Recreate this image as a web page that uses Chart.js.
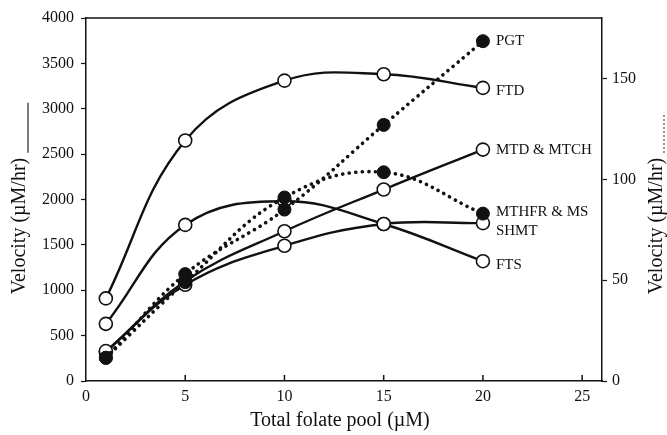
<!DOCTYPE html>
<html>
<head>
<meta charset="utf-8">
<script src="https://cdn.jsdelivr.net/npm/chart.js@4/dist/chart.umd.min.js"></script>
<style>
  html, body { margin: 0; padding: 0; background: #fff; }
  #wrap { width: 667px; height: 435px; position: relative; }
</style>
</head>
<body>
<div id="wrap"><canvas id="chart"></canvas></div>
<script>
// data
const folate = [1, 5, 10, 15, 20];
const ftd = [910, 2650, 3310, 3380, 3230];
const fts = [630, 1720, 1980, 1730, 1320];
const shmt = [330, 1060, 1490, 1730, 1740];
const mtdMtch = [320, 1100, 1650, 2110, 2550];
// right axis (dotted)
const pgt = [11.5, 53, 85, 127, 168.5];
const mthfrMs = [11.5, 49, 91, 103.5, 83];

const xTicks = [0, 5, 10, 15, 20, 25];
const yTicks = [0, 500, 1000, 1500, 2000, 2500, 3000, 3500, 4000];
const y1Ticks = [0, 50, 100, 150];

const serif = "'Liberation Serif', 'DejaVu Serif', serif";
const ink = "#111";

function pts(vals) {
  return vals.map((v, i) => ({ x: folate[i], y: v }));
}

function solid(label, vals, dy) {
  return {
    label: label, data: pts(vals), yAxisID: "y", tag: dy, order: 2,
    borderColor: ink, borderWidth: 2.4, tension: 0.4,
    pointRadius: 6.5, pointBackgroundColor: "#fff", pointBorderColor: ink, pointBorderWidth: 1.6
  };
}
function dotted(label, vals, dy) {
  return {
    label: label, data: pts(vals), yAxisID: "y1", tag: dy, order: 1,
    borderColor: ink, borderWidth: 3.6, borderDash: [0.1, 6.5], borderCapStyle: "round",
    tension: 0.4,
    pointRadius: 6.5, pointBackgroundColor: ink, pointBorderColor: ink, pointBorderWidth: 1
  };
}

const datasets = [
  solid("FTD", ftd, 3),
  solid("FTS", fts, 4),
  solid("SHMT", shmt, 8),
  solid("MTD & MTCH", mtdMtch, 0),
  dotted("PGT", pgt, 0),
  dotted("MTHFR & MS", mthfrMs, -2)
];

// labels next to the last point, titles, frame, inward x ticks
const decor = {
  id: "decor",
  afterDatasetsDraw(chart) {
    const ctx = chart.ctx;
    const a = chart.chartArea;
    const xs = chart.scales.x;
    ctx.save();
    ctx.strokeStyle = ink;
    ctx.lineWidth = 1.5;
    ctx.beginPath();
    ctx.moveTo(a.left, a.top);
    ctx.lineTo(a.right, a.top);
    xTicks.forEach(t => {
      if (t === 0) return;
      const px = xs.getPixelForValue(t);
      ctx.moveTo(px, a.bottom);
      ctx.lineTo(px, a.bottom - 6);
    });
    ctx.stroke();

    ctx.fillStyle = ink;
    ctx.font = "15px " + serif;
    ctx.textAlign = "left";
    ctx.textBaseline = "middle";
    chart.data.datasets.forEach((ds, i) => {
      const meta = chart.getDatasetMeta(i);
      const p = meta.data[meta.data.length - 1];
      ctx.fillText(ds.label, p.x + 13, p.y + ds.tag);
    });

    ctx.font = "20px " + serif;
    ctx.textAlign = "center";
    ctx.fillText("Total folate pool (\u00b5M)", 340, 421);

    const title = "Velocity (\u00b5M/hr)";
    // left title with solid key line
    ctx.save();
    ctx.translate(20, 226);
    ctx.rotate(-Math.PI / 2);
    ctx.fillText(title, 0, 0);
    let w = ctx.measureText(title).width;
    ctx.strokeStyle = "#333";
    ctx.lineWidth = 1.3;
    ctx.beginPath();
    ctx.moveTo(w / 2 + 5, 8);
    ctx.lineTo(w / 2 + 55, 8);
    ctx.stroke();
    ctx.restore();

    // right title with dotted key line
    ctx.save();
    ctx.translate(657, 226);
    ctx.rotate(-Math.PI / 2);
    ctx.fillText(title, 0, 0);
    ctx.strokeStyle = "#333";
    ctx.lineWidth = 1.4;
    ctx.setLineDash([1.4, 2.6]);
    ctx.beginPath();
    ctx.moveTo(w / 2 + 5, 7);
    ctx.lineTo(w / 2 + 45, 7);
    ctx.stroke();
    ctx.restore();

    ctx.restore();
  }
};

const plain = v => String(v);

new Chart(document.getElementById("chart"), {
  type: "line",
  data: { datasets: datasets },
  plugins: [decor],
  options: {
    responsive: true,
    maintainAspectRatio: false,
    animation: false,
    layout: { padding: { top: 18, left: 0, right: 0, bottom: 0 } },
    plugins: { legend: { display: false }, tooltip: { enabled: false } },
    scales: {
      x: {
        type: "linear", min: 0, max: 26,
        afterBuildTicks: s => { s.ticks = xTicks.map(v => ({ value: v })); },
        afterFit: s => { s.height = 54; },
        grid: { drawOnChartArea: false, drawTicks: false },
        border: { color: ink, width: 1.5 },
        ticks: { color: ink, padding: 6, callback: plain, font: { family: serif, size: 16 }, maxRotation: 0 }
      },
      y: {
        type: "linear", position: "left", min: 0, max: 4000,
        afterBuildTicks: s => { s.ticks = yTicks.map(v => ({ value: v })); },
        afterFit: s => { s.width = 86; },
        grid: { drawOnChartArea: false, tickLength: 5, color: ink, tickWidth: 1.2 },
        border: { color: ink, width: 1.5 },
        ticks: { color: ink, padding: 7, callback: plain, font: { family: serif, size: 16 } }
      },
      y1: {
        type: "linear", position: "right", min: 0, max: 180,
        afterBuildTicks: s => { s.ticks = y1Ticks.map(v => ({ value: v })); },
        afterFit: s => { s.width = 65; },
        grid: { drawOnChartArea: false, tickLength: 5, color: ink, tickWidth: 1.2 },
        border: { color: ink, width: 1.5 },
        ticks: { color: ink, padding: 5, callback: plain, font: { family: serif, size: 16 } }
      }
    }
  }
});
</script>
</body>
</html>
